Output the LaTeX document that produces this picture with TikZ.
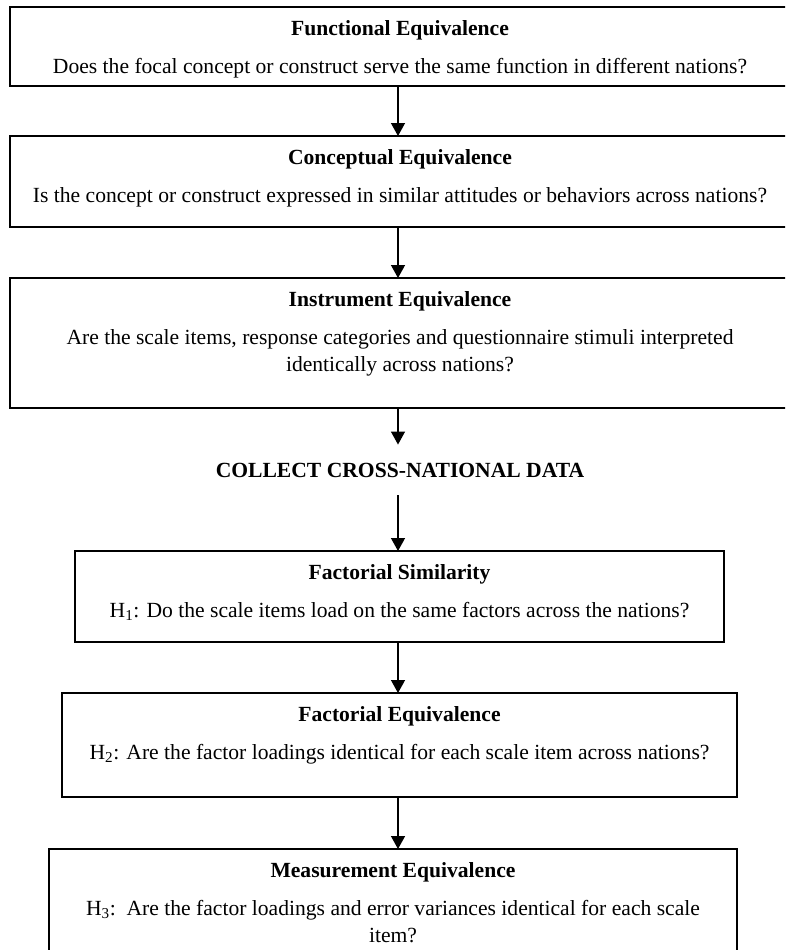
\documentclass[tikz,border=0pt]{standalone}
\usepackage{fontspec}
\setmainfont{Liberation Serif}
\usetikzlibrary{calc,arrows.meta,positioning}

\begin{document}
\begin{tikzpicture}[x=1pt,y=1pt,{eqbox/.style={rectangle,draw=black,line width=1.8pt,anchor=north west,inner sep=0pt,outer sep=0pt}},{boxtxt/.style={align=center,inner sep=0pt,font=\fontsize{21.6}{26.5}\selectfont}},{flow/.style={-{Triangle[length=13pt,width=14pt]},line width=1.4pt}}]
	%%page
	\useasboundingbox (0,0) rectangle (785,-950);
	\clip (0,0) rectangle (785,-950);
	%%boxes before data collection
	\node[eqbox,minimum width=780pt,minimum height=79pt] (func) at (10,-7) {};
	\node[boxtxt,below=13.5pt of func.north] (functxt) {\textbf{Functional Equivalence}\\[11.5pt]Does the focal concept or construct serve the same function in different nations?};
	\node[eqbox,minimum width=780pt,minimum height=91pt] (conc) at (10,-136) {};
	\node[boxtxt,below=13.5pt of conc.north] (conctxt) {\textbf{Conceptual Equivalence}\\[11.5pt]Is the concept or construct expressed in similar attitudes or behaviors across nations?};
	\node[eqbox,minimum width=780pt,minimum height=130pt] (instr) at (10,-278) {};
	\node[boxtxt,below=13.5pt of instr.north] (instrtxt) {\textbf{Instrument Equivalence}\\[11.5pt]Are the scale items, response categories and questionnaire stimuli interpreted\\identically across nations?};
	%%data collection
	\node[boxtxt,inner ysep=18pt] (collect) at (400,-470) {\textbf{COLLECT CROSS-NATIONAL DATA}};
	%%boxes after data collection
	\node[eqbox,minimum width=649pt,minimum height=91pt] (sim) at (75,-551) {};
	\node[boxtxt,below=13.5pt of sim.north] (simtxt) {\textbf{Factorial Similarity}\\[11.5pt]H\textsubscript{1}: Do the scale items load on the same factors across the nations?};
	\node[eqbox,minimum width=675pt,minimum height=104pt] (fequ) at (62,-693) {};
	\node[boxtxt,below=13.5pt of fequ.north] (fequtxt) {\textbf{Factorial Equivalence}\\[11.5pt]H\textsubscript{2}: Are the factor loadings identical for each scale item across nations?};
	\node[eqbox,minimum width=688pt,minimum height=140pt] (meas) at (49,-849) {};
	\node[boxtxt,below=13.5pt of meas.north] (meastxt) {\textbf{Measurement Equivalence}\\[11.5pt]H\textsubscript{3}:\ \ Are the factor loadings and error variances identical for each scale\\item?};
	%%arrows
	\coordinate (spine) at (398,0);
	\draw[flow] (func.south -| spine) -- (conc.north -| spine);
	\draw[flow] (conc.south -| spine) -- (instr.north -| spine);
	\draw[flow] (instr.south -| spine) -- (collect.north -| spine);
	\draw[flow] (collect.south -| spine) -- (sim.north -| spine);
	\draw[flow] (sim.south -| spine) -- (fequ.north -| spine);
	\draw[flow] (fequ.south -| spine) -- (meas.north -| spine);
\end{tikzpicture}
\end{document}
